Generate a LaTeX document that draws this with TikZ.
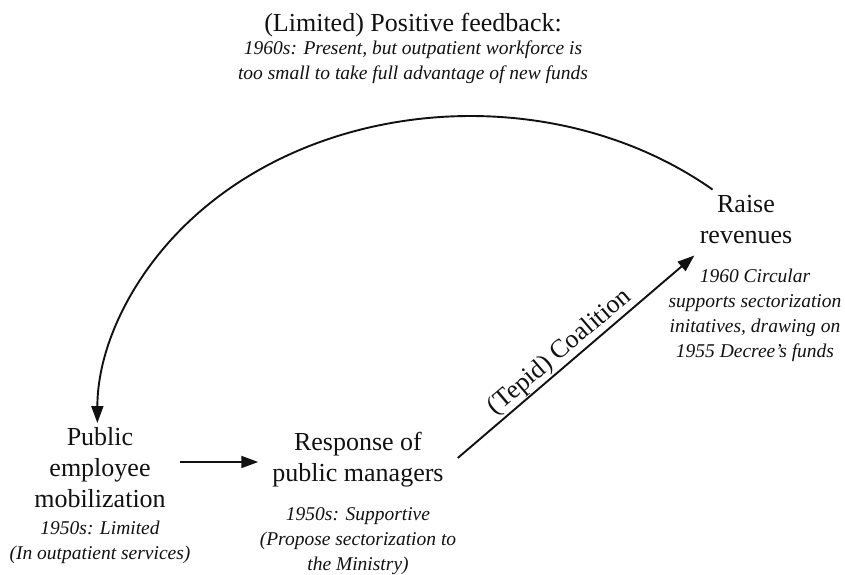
\documentclass[tikz,border=0pt]{standalone}
\usepackage{fontspec}
\setmainfont{Liberation Serif}
\usepackage{tikz}
\usepackage{xcolor}
\usetikzlibrary{arrows.meta}
\definecolor{inkcolor}{HTML}{111111}
\newcommand{\conceptfont}{\fontsize{26}{31}\selectfont}
\newcommand{\notefont}{\fontsize{19.5}{25}\selectfont\itshape}
\tikzstyle{concept} = [
    align=center,
    inner sep=0pt,
    text=inkcolor,
    font=\conceptfont
    ]
\tikzstyle{note} = [
    align=center,
    inner sep=0pt,
    text=inkcolor,
    font=\notefont
    ]
\tikzstyle{flow} = [
    draw=inkcolor,
    line width=1.9pt,
    -{Triangle[length=17pt,width=12pt]}
    ]

\begin{document}
\begin{tikzpicture}[x=1pt,y=-1pt]
\useasboundingbox (0,0) rectangle (845,574);
% feedback title
\node[concept] (fb) at (413,25) {(Limited) Positive feedback:};
\node[note] (fbnote) at (413,62) {1960s: Present, but outpatient workforce is\\too small to take full advantage of new funds};
% the three stages
\node[concept] (pem) at (100,468) {Public\\employee\\mobilization};
\node[note] (pemnote) at (100,542) {1950s: Limited\\(In outpatient services)};
\node[concept] (rpm) at (358,460) {Response of\\public managers};
\node[note] (rpmnote) at (358,541) {1950s: Supportive\\(Propose sectorization to\\the Ministry)};
\node[concept] (rr) at (746,220) {Raise\\revenues};
\node[note] (rrnote) at (755,315) {1960 Circular\\supports sectorization\\initatives, drawing on\\1955 Decree’s funds};
% links
\draw[flow] ([xshift=14pt,yshift=6pt]pem.east) -- ([xshift=-14pt,yshift=-2pt]rpm.west);
\draw[flow] ([xshift=14pt,yshift=2pt]rpm.east) -- node[concept, sloped, above, pos=0.47, inner sep=1pt] (coal) {(Tepid) Coalition} ([xshift=26pt,yshift=13pt]rrnote.north west);
\draw[flow] ([xshift=13pt,yshift=6pt]rr.north west) arc[start angle=-49.5, end angle=-180, x radius=373, y radius=307];
\end{tikzpicture}
\end{document}
